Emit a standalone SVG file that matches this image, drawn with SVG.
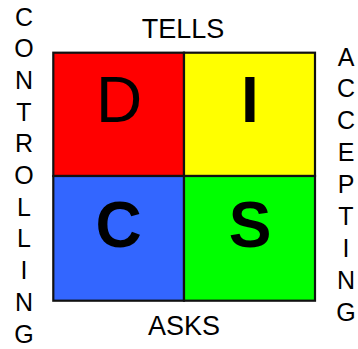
<svg xmlns="http://www.w3.org/2000/svg" width="358" height="349" viewBox="0 0 358 349">
<style>
.q{stroke:#111;stroke-width:2.2}
.big{font-family:"Liberation Sans",Arial,sans-serif;font-size:64px;text-anchor:middle;fill:#000}
.b{font-weight:bold}
.lab{font-family:"Liberation Sans",Arial,sans-serif;font-size:27px;text-anchor:middle;fill:#000}
.col{font-family:"Liberation Sans",Arial,sans-serif;font-size:25px;text-anchor:middle;fill:#000}
</style>
<rect width="358" height="349" fill="#fff"/>
<g id="D">
<rect class="q" x="53.3" y="52.7" width="130.7" height="123.3" fill="#ff0000"/>
<text class="big" x="119" y="121.5">D</text>
</g>
<g id="I">
<rect class="q" x="184" y="52.7" width="131" height="123.3" fill="#ffff00"/>
<text class="big b" x="250" y="121.5">I</text>
</g>
<g id="C">
<rect class="q" x="53.3" y="176" width="130.7" height="124.7" fill="#3366ff"/>
<text class="big b" x="118.5" y="246.5">C</text>
</g>
<g id="S">
<rect class="q" x="184" y="176" width="131" height="124.7" fill="#00ff00"/>
<text class="big b" x="250" y="246.5">S</text>
</g>
<g id="labels">
<text class="lab" x="183" y="37.5">TELLS</text>
<text class="lab" x="184" y="335">ASKS</text>
</g>
<g id="controlling">
<text class="col" x="24" y="25.5">C</text>
<text class="col" x="24" y="57.2">O</text>
<text class="col" x="24" y="88.9">N</text>
<text class="col" x="24" y="120.6">T</text>
<text class="col" x="24" y="152.3">R</text>
<text class="col" x="24" y="184">O</text>
<text class="col" x="24" y="215.7">L</text>
<text class="col" x="24" y="247.4">L</text>
<text class="col" x="24" y="279.1">I</text>
<text class="col" x="24" y="310.8">N</text>
<text class="col" x="24" y="342.5">G</text>
</g>
<g id="accepting">
<text class="col" x="346" y="65.5">A</text>
<text class="col" x="346" y="97.4">C</text>
<text class="col" x="346" y="129.3">C</text>
<text class="col" x="346" y="161.2">E</text>
<text class="col" x="346" y="193.1">P</text>
<text class="col" x="346" y="225">T</text>
<text class="col" x="346" y="256.9">I</text>
<text class="col" x="346" y="288.8">N</text>
<text class="col" x="346" y="320.7">G</text>
</g>
</svg>
